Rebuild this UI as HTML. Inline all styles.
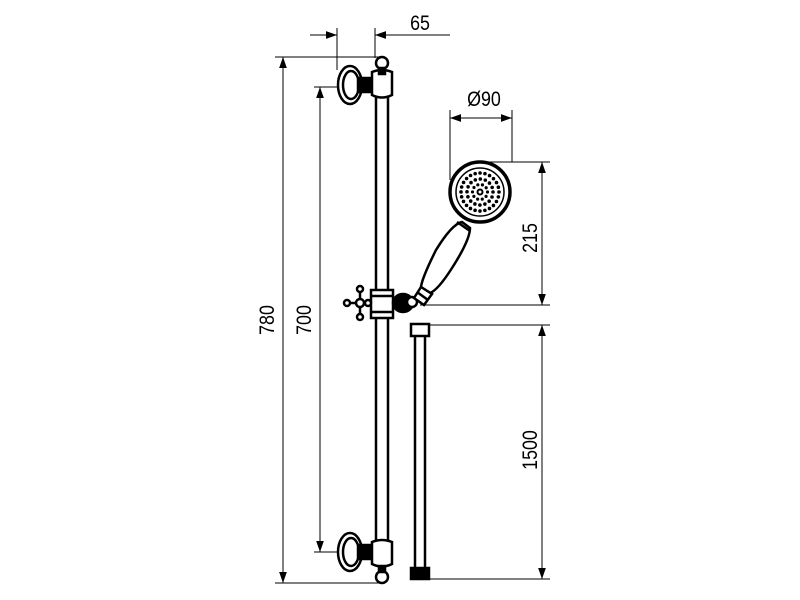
<!DOCTYPE html>
<html><head><meta charset="utf-8"><style>html,body{margin:0;padding:0;background:#fff}svg{display:block}</style></head>
<body>
<svg width="800" height="600" viewBox="0 0 800 600" xmlns="http://www.w3.org/2000/svg" font-family="Liberation Sans, sans-serif">
<defs>
<marker id="a" viewBox="0 0 10 10" refX="10" refY="5" markerWidth="11" markerHeight="11" markerUnits="userSpaceOnUse" orient="auto-start-reverse"><path d="M0,1.5 L10,5 L0,8.5 z" fill="#000"/></marker>
</defs>
<g stroke="#000" stroke-width="1" fill="none">
<line x1="275" y1="57" x2="380" y2="57"/>
<line x1="275" y1="583" x2="385" y2="583"/>
<line x1="314" y1="87" x2="352" y2="87"/>
<line x1="314" y1="552" x2="352" y2="552"/>
<line x1="337" y1="28" x2="337" y2="70"/>
<line x1="375" y1="28" x2="375" y2="58"/>
<line x1="450" y1="110" x2="450" y2="180"/>
<line x1="512" y1="110" x2="512" y2="162"/>
<line x1="480" y1="162" x2="550" y2="162"/>
<line x1="420" y1="305" x2="550" y2="305"/>
<line x1="430" y1="325" x2="550" y2="325"/>
<line x1="430" y1="579" x2="550" y2="579"/>
<line x1="283" y1="57" x2="283" y2="583" marker-start="url(#a)" marker-end="url(#a)"/>
<line x1="320" y1="87" x2="320" y2="552" marker-start="url(#a)" marker-end="url(#a)"/>
<line x1="310" y1="35" x2="337" y2="35" marker-end="url(#a)"/>
<line x1="450" y1="35" x2="375" y2="35" marker-end="url(#a)"/>
<line x1="450" y1="118" x2="512" y2="118" marker-start="url(#a)" marker-end="url(#a)"/>
<line x1="542" y1="162" x2="542" y2="305" marker-start="url(#a)" marker-end="url(#a)"/>
<line x1="542" y1="325" x2="542" y2="579" marker-start="url(#a)" marker-end="url(#a)"/>
</g>
<g font-size="21" fill="#000">
<text transform="translate(420,30) scale(0.85,1)" text-anchor="middle">65</text>
<text transform="translate(484,106) scale(0.85,1)" text-anchor="middle">Ø90</text>
<text transform="translate(537,238) rotate(-90) scale(0.85,1)" text-anchor="middle">215</text>
<text transform="translate(537,450) rotate(-90) scale(0.85,1)" text-anchor="middle">1500</text>
<text transform="translate(274,320) rotate(-90) scale(0.85,1)" text-anchor="middle">780</text>
<text transform="translate(311,320) rotate(-90) scale(0.85,1)" text-anchor="middle">700</text>
</g>
<g stroke="#000" stroke-width="2.5" fill="#fff">
<line x1="376" y1="78" x2="376" y2="562"/>
<line x1="388" y1="78" x2="388" y2="562"/>
<ellipse cx="350" cy="85" rx="12" ry="19"/>
<ellipse cx="351" cy="85" rx="8" ry="14"/>
<rect x="358" y="78" width="18" height="14" fill="#000"/>
<path d="M372,72 Q382,68 392,72 L392,95 Q382,100 372,95 Z"/>
<circle cx="382" cy="63" r="6"/>
<rect x="379" y="68" width="6" height="6" fill="#000"/>
<ellipse cx="350" cy="552" rx="12" ry="19"/>
<ellipse cx="351" cy="552" rx="8" ry="14"/>
<rect x="358" y="545" width="18" height="14" fill="#000"/>
<path d="M372,542 Q382,538 392,542 L392,564 Q382,569 372,564 Z"/>
<circle cx="382" cy="577" r="6"/>
<rect x="379" y="566" width="6" height="6" fill="#000"/>
<rect x="371" y="290" width="22" height="28"/>
<line x1="371" y1="296" x2="393" y2="296"/>
<line x1="371" y1="312" x2="393" y2="312"/>
<ellipse cx="403" cy="303" rx="10" ry="9" fill="#000"/>
<circle cx="412" cy="302" r="5"/>
<line x1="346" y1="303" x2="372" y2="303"/>
<line x1="360" y1="290" x2="360" y2="316"/>
<circle cx="360" cy="289" r="3"/>
<circle cx="360" cy="317" r="3"/>
<circle cx="347" cy="303" r="3"/>
<circle cx="360" cy="303" r="4"/>
<circle cx="368" cy="303" r="3"/>
<path d="M462,222 L470,228 Q470,240 452,268 Q438,290 430,293 L421,287 Q422,278 436,250 Q452,224 462,222 Z"/>
<line x1="457" y1="222" x2="470" y2="231" />
<path d="M421,287 L432,294 L424,305 L414,298 Z"/>
<line x1="417" y1="292" x2="428" y2="300"/>
<circle cx="480" cy="192" r="30" stroke-width="3.5"/>
<circle cx="480" cy="192" r="24" stroke-width="1.5"/>
</g>
<g stroke="#000" fill="none" stroke-linecap="round">
<circle cx="480" cy="192" r="19" stroke-width="3.6" stroke-dasharray="0 4.97"/>
<circle cx="480" cy="192" r="13" stroke-width="3.6" stroke-dasharray="0 5.1"/>
<circle cx="480" cy="192" r="7.5" stroke-width="3.2" stroke-dasharray="0 4.7"/>
<circle cx="480" cy="192" r="2.5" stroke-width="2"/>
</g>
<g stroke="#000" stroke-width="2.5" fill="#fff">
<line x1="415" y1="336" x2="415" y2="570"/>
<line x1="425" y1="336" x2="425" y2="570"/>
<rect x="411" y="324" width="18" height="12"/>
<rect x="411" y="568" width="18" height="11" fill="#000"/>
</g>
</svg>
</body></html>
